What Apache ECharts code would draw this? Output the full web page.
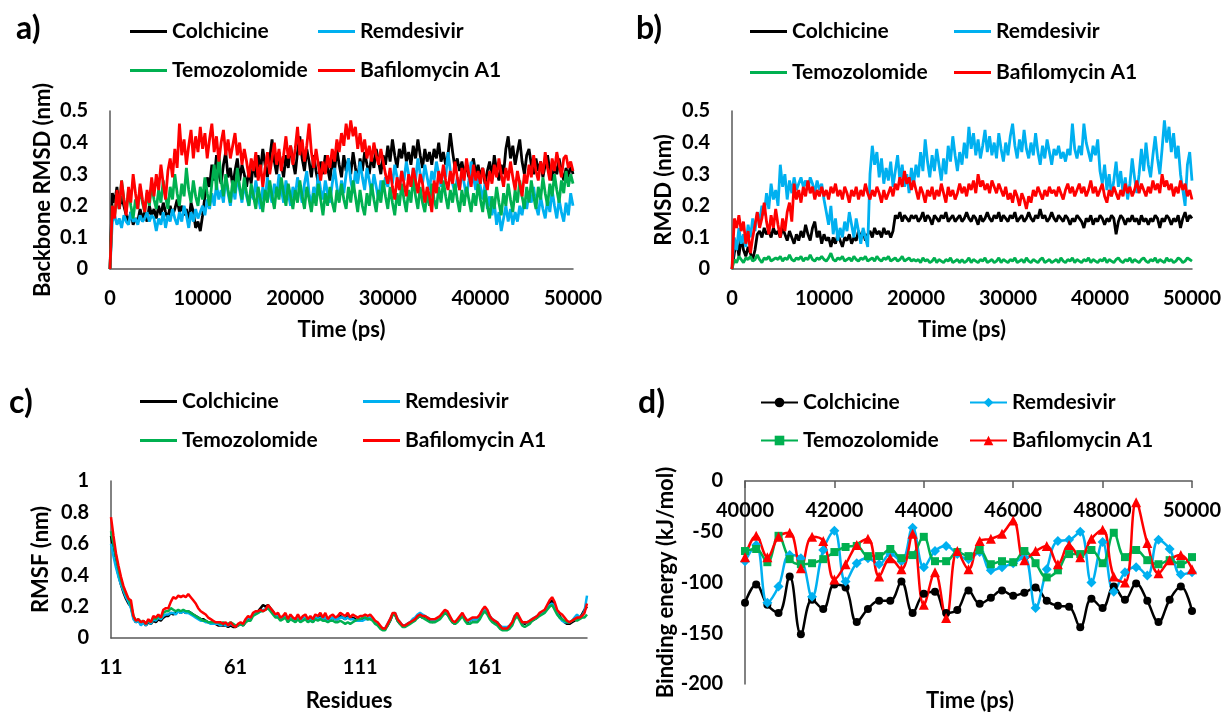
<!DOCTYPE html>
<html><head><meta charset="utf-8">
<script src="https://cdn.jsdelivr.net/npm/echarts@6/dist/echarts.min.js"></script>
<style>html,body{margin:0;padding:0;background:#fff}#c{width:1224px;height:713px}</style>
</head><body><div id="c"></div><script>
const seriesNames = ['Colchicine','Remdesivir','Temozolomide','Bafilomycin A1'];
const seriesColors = ['#000000','#00B0F0','#00B050','#FF0000'];
const dSymbols = ['circle','diamond','rect','triangle'];
const dSymbolSizes = [8,10,8,10];

// time axis for panels a and b (ps), sampled every 250 ps
const timeStepPs = 250;
const timePs = [];
for (let t = 0; t <= 50000; t += timeStepPs) timePs.push(t);

// a) Backbone RMSD (nm)
const rmsdA_colchicine = [
0,0.24,0.21,0.26,0.19,0.23,0.2,0.17,0.15,0.18,0.14,0.16,0.15,0.19,0.16,0.18,0.15,0.2,0.17,0.19,
0.16,0.2,0.17,0.21,0.18,0.16,0.2,0.17,0.19,0.22,0.18,0.2,0.17,0.19,0.15,0.21,0.18,0.13,0.15,0.12,
0.17,0.23,0.29,0.26,0.33,0.28,0.36,0.3,0.27,0.33,0.37,0.29,0.32,0.26,0.31,0.35,0.28,0.33,0.3,0.26,
0.31,0.27,0.34,0.29,0.36,0.31,0.38,0.33,0.29,0.35,0.41,0.34,0.3,0.37,0.33,0.29,0.36,0.32,0.39,0.34,
0.3,0.37,0.42,0.35,0.31,0.38,0.34,0.29,0.36,0.31,0.27,0.34,0.3,0.36,0.32,0.28,0.35,0.31,0.38,0.33,
0.29,0.36,0.31,0.35,0.3,0.37,0.32,0.28,0.35,0.31,0.37,0.33,0.3,0.36,0.32,0.38,0.34,0.3,0.36,0.33,
0.39,0.34,0.41,0.36,0.32,0.38,0.35,0.4,0.34,0.37,0.33,0.39,0.35,0.41,0.36,0.32,0.38,0.34,0.37,0.33,
0.38,0.35,0.4,0.34,0.37,0.33,0.36,0.43,0.37,0.32,0.35,0.31,0.34,0.3,0.33,0.29,0.32,0.35,0.3,0.33,
0.29,0.32,0.27,0.31,0.34,0.29,0.36,0.31,0.28,0.33,0.3,0.38,0.42,0.35,0.39,0.33,0.37,0.41,0.34,0.3,
0.36,0.38,0.33,0.3,0.35,0.31,0.34,0.29,0.33,0.36,0.31,0.28,0.33,0.3,0.35,0.31,0.28,0.32,0.29,0.33,
0.3];
const rmsdA_remdesivir = [
0,0.15,0.17,0.14,0.16,0.13,0.17,0.15,0.14,0.18,0.15,0.16,0.14,0.17,0.15,0.16,0.18,0.15,0.17,0.16,
0.12,0.16,0.14,0.18,0.13,0.17,0.15,0.19,0.16,0.14,0.18,0.15,0.2,0.17,0.13,0.18,0.15,0.19,0.16,0.18,
0.2,0.17,0.22,0.19,0.24,0.2,0.27,0.22,0.25,0.21,0.29,0.24,0.2,0.26,0.22,0.3,0.25,0.21,0.27,0.23,
0.2,0.25,0.22,0.28,0.23,0.19,0.26,0.22,0.29,0.24,0.21,0.27,0.23,0.3,0.25,0.21,0.28,0.24,0.2,0.26,
0.23,0.29,0.25,0.21,0.27,0.31,0.24,0.2,0.26,0.23,0.3,0.25,0.22,0.28,0.24,0.21,0.27,0.32,0.26,0.22,
0.28,0.24,0.3,0.35,0.28,0.24,0.31,0.27,0.34,0.29,0.25,0.32,0.28,0.24,0.3,0.26,0.22,0.28,0.25,0.29,
0.26,0.31,0.27,0.33,0.29,0.25,0.31,0.28,0.34,0.3,0.26,0.32,0.28,0.35,0.3,0.27,0.33,0.29,0.25,0.31,
0.28,0.34,0.3,0.26,0.32,0.29,0.37,0.31,0.27,0.24,0.29,0.25,0.31,0.27,0.23,0.28,0.34,0.29,0.25,0.3,
0.26,0.22,0.27,0.19,0.23,0.17,0.21,0.14,0.18,0.12,0.16,0.2,0.15,0.19,0.14,0.18,0.15,0.2,0.17,0.22,
0.19,0.24,0.21,0.26,0.2,0.17,0.23,0.19,0.16,0.22,0.18,0.25,0.2,0.16,0.22,0.18,0.15,0.21,0.17,0.24,
0.2];
const rmsdA_temozolomide = [
0,0.2,0.17,0.24,0.19,0.28,0.22,0.18,0.25,0.2,0.16,0.22,0.19,0.26,0.21,0.18,0.24,0.2,0.27,0.22,
0.19,0.25,0.21,0.28,0.23,0.19,0.26,0.22,0.3,0.24,0.2,0.27,0.23,0.32,0.25,0.21,0.28,0.23,0.2,0.26,
0.22,0.29,0.24,0.2,0.27,0.33,0.25,0.37,0.28,0.23,0.3,0.25,0.21,0.28,0.24,0.32,0.26,0.22,0.29,0.24,
0.2,0.27,0.23,0.19,0.26,0.22,0.18,0.25,0.21,0.28,0.23,0.19,0.26,0.22,0.29,0.24,0.2,0.27,0.23,0.19,
0.25,0.21,0.28,0.23,0.19,0.26,0.22,0.18,0.24,0.2,0.27,0.22,0.17,0.24,0.2,0.26,0.21,0.18,0.25,0.21,
0.27,0.22,0.19,0.26,0.21,0.28,0.23,0.18,0.25,0.2,0.17,0.24,0.2,0.27,0.22,0.18,0.25,0.21,0.28,0.23,
0.19,0.26,0.21,0.17,0.24,0.2,0.27,0.22,0.18,0.25,0.21,0.29,0.23,0.19,0.26,0.21,0.18,0.24,0.2,0.27,
0.22,0.19,0.26,0.21,0.28,0.23,0.19,0.25,0.21,0.27,0.22,0.18,0.25,0.2,0.26,0.22,0.18,0.24,0.2,0.27,
0.22,0.18,0.25,0.2,0.16,0.23,0.19,0.26,0.21,0.17,0.24,0.2,0.27,0.22,0.18,0.25,0.21,0.28,0.23,0.19,
0.26,0.21,0.28,0.23,0.19,0.26,0.22,0.29,0.24,0.2,0.27,0.23,0.3,0.25,0.21,0.28,0.24,0.31,0.26,0.3,
0.27];
const rmsdA_bafilomycin = [
0,0.2,0.16,0.25,0.19,0.28,0.22,0.17,0.26,0.21,0.3,0.24,0.19,0.27,0.22,0.18,0.25,0.21,0.29,0.23,
0.3,0.25,0.33,0.27,0.22,0.31,0.35,0.29,0.38,0.32,0.46,0.36,0.41,0.33,0.39,0.44,0.35,0.42,0.37,0.45,
0.38,0.43,0.35,0.41,0.46,0.37,0.42,0.34,0.4,0.44,0.36,0.41,0.35,0.39,0.43,0.36,0.4,0.33,0.38,0.34,
0.29,0.35,0.31,0.37,0.28,0.33,0.26,0.32,0.37,0.3,0.35,0.4,0.33,0.38,0.31,0.36,0.42,0.35,0.39,0.33,
0.38,0.45,0.36,0.41,0.34,0.39,0.46,0.37,0.32,0.38,0.33,0.28,0.34,0.3,0.36,0.32,0.38,0.34,0.41,0.37,
0.43,0.39,0.46,0.41,0.47,0.42,0.45,0.38,0.43,0.37,0.41,0.35,0.39,0.34,0.4,0.36,0.33,0.38,0.34,0.3,
0.27,0.32,0.26,0.22,0.29,0.25,0.31,0.27,0.23,0.3,0.26,0.32,0.28,0.24,0.3,0.27,0.21,0.26,0.23,0.18,
0.28,0.24,0.31,0.27,0.33,0.28,0.25,0.31,0.27,0.34,0.29,0.25,0.32,0.28,0.35,0.3,0.26,0.33,0.28,0.31,
0.27,0.32,0.28,0.25,0.31,0.27,0.33,0.29,0.35,0.3,0.26,0.32,0.28,0.34,0.29,0.25,0.31,0.27,0.23,0.3,
0.27,0.33,0.29,0.36,0.31,0.28,0.34,0.3,0.37,0.32,0.28,0.35,0.31,0.37,0.33,0.29,0.35,0.36,0.32,0.34,
0.31];

// b) RMSD (nm)
const rmsdB_colchicine = [
0,0.05,0.09,0.04,0.1,0.06,0.04,0.07,0.05,0.03,0.06,0.11,0.12,0.1,0.13,0.11,0.12,0.1,0.13,0.11,
0.12,0.1,0.13,0.11,0.09,0.12,0.1,0.08,0.11,0.09,0.12,0.1,0.14,0.11,0.09,0.13,0.15,0.1,0.12,0.08,
0.11,0.09,0.1,0.07,0.1,0.08,0.11,0.09,0.07,0.1,0.09,0.11,0.08,0.1,0.09,0.12,0.1,0.12,0.09,0.11,
0.12,0.1,0.13,0.11,0.12,0.1,0.13,0.11,0.12,0.1,0.12,0.17,0.16,0.18,0.15,0.17,0.16,0.15,0.17,0.16,
0.17,0.15,0.16,0.18,0.15,0.17,0.16,0.14,0.17,0.16,0.15,0.17,0.16,0.18,0.15,0.16,0.17,0.15,0.16,0.17,
0.15,0.16,0.18,0.16,0.15,0.17,0.16,0.14,0.17,0.15,0.16,0.18,0.16,0.15,0.17,0.16,0.18,0.15,0.17,0.16,
0.15,0.17,0.16,0.18,0.15,0.16,0.17,0.15,0.16,0.18,0.16,0.15,0.17,0.16,0.19,0.16,0.17,0.15,0.16,0.18,
0.16,0.15,0.17,0.16,0.15,0.17,0.16,0.14,0.16,0.15,0.17,0.16,0.15,0.13,0.16,0.15,0.17,0.14,0.16,0.15,
0.17,0.16,0.14,0.16,0.15,0.17,0.16,0.11,0.15,0.17,0.16,0.14,0.16,0.15,0.17,0.15,0.16,0.14,0.17,0.15,
0.16,0.14,0.16,0.15,0.17,0.16,0.13,0.16,0.15,0.17,0.16,0.14,0.16,0.15,0.17,0.13,0.16,0.18,0.15,0.17,
0.16];
const rmsdB_remdesivir = [
0,0.1,0.06,0.13,0.08,0.11,0.07,0.14,0.1,0.16,0.12,0.18,0.15,0.2,0.17,0.24,0.19,0.27,0.22,0.25,
0.2,0.33,0.26,0.3,0.22,0.28,0.24,0.29,0.25,0.27,0.29,0.26,0.28,0.25,0.29,0.27,0.24,0.28,0.25,0.27,
0.22,0.18,0.14,0.2,0.11,0.16,0.09,0.13,0.1,0.15,0.12,0.18,0.14,0.1,0.16,0.12,0.08,0.13,0.1,0.07,
0.3,0.39,0.33,0.37,0.29,0.35,0.27,0.32,0.28,0.34,0.26,0.31,0.36,0.28,0.33,0.26,0.3,0.24,0.32,0.27,
0.33,0.29,0.37,0.31,0.41,0.34,0.29,0.36,0.31,0.38,0.33,0.28,0.35,0.3,0.39,0.34,0.42,0.36,0.31,0.37,
0.33,0.4,0.35,0.45,0.38,0.43,0.36,0.41,0.35,0.39,0.44,0.37,0.42,0.36,0.4,0.35,0.43,0.38,0.34,0.4,
0.36,0.42,0.46,0.39,0.35,0.41,0.37,0.44,0.38,0.35,0.4,0.36,0.43,0.37,0.33,0.39,0.35,0.41,0.37,0.33,
0.38,0.36,0.39,0.35,0.37,0.34,0.38,0.36,0.46,0.38,0.35,0.39,0.36,0.46,0.4,0.37,0.34,0.39,0.36,0.41,
0.31,0.27,0.33,0.25,0.3,0.23,0.28,0.34,0.26,0.31,0.24,0.29,0.22,0.27,0.35,0.29,0.24,0.3,0.38,0.31,
0.4,0.33,0.29,0.36,0.42,0.35,0.3,0.38,0.47,0.4,0.45,0.37,0.43,0.35,0.39,0.3,0.25,0.2,0.33,0.37,
0.28];
const rmsdB_temozolomide = [
0,0.03,0.02,0.04,0.03,0.02,0.035,0.03,0.04,0.025,0.03,0.045,0.03,0.02,0.035,0.03,0.04,0.025,0.03,0.035,
0.03,0.04,0.025,0.035,0.03,0.045,0.03,0.025,0.035,0.03,0.04,0.025,0.035,0.03,0.045,0.03,0.025,0.035,0.03,0.04,
0.03,0.025,0.035,0.05,0.03,0.025,0.035,0.03,0.04,0.025,0.03,0.035,0.025,0.04,0.03,0.025,0.035,0.03,0.04,0.025,
0.03,0.035,0.025,0.04,0.03,0.025,0.035,0.03,0.04,0.025,0.03,0.035,0.025,0.03,0.04,0.025,0.03,0.035,0.025,0.03,
0.025,0.03,0.02,0.035,0.025,0.03,0.02,0.025,0.035,0.02,0.03,0.025,0.02,0.03,0.025,0.035,0.02,0.025,0.03,0.02,
0.03,0.02,0.025,0.035,0.02,0.03,0.025,0.02,0.03,0.025,0.035,0.02,0.025,0.03,0.02,0.025,0.035,0.02,0.03,0.025,
0.02,0.03,0.025,0.035,0.02,0.025,0.03,0.02,0.035,0.025,0.02,0.03,0.025,0.02,0.03,0.035,0.02,0.025,0.03,0.02,
0.025,0.03,0.02,0.035,0.025,0.02,0.03,0.025,0.035,0.02,0.03,0.025,0.02,0.03,0.025,0.035,0.02,0.03,0.025,0.02,
0.03,0.025,0.035,0.02,0.03,0.025,0.02,0.03,0.035,0.025,0.02,0.03,0.025,0.035,0.02,0.03,0.025,0.02,0.03,0.035,
0.025,0.02,0.03,0.025,0.035,0.02,0.03,0.025,0.02,0.035,0.025,0.03,0.02,0.025,0.035,0.03,0.02,0.025,0.035,0.03,
0.025];
const rmsdB_bafilomycin = [
0,0.16,0.13,0.17,0.12,0.15,0.08,0.12,0.05,0.1,0.14,0.18,0.13,0.16,0.21,0.15,0.11,0.17,0.13,0.19,
0.14,0.1,0.16,0.12,0.18,0.21,0.15,0.27,0.22,0.25,0.21,0.26,0.23,0.28,0.24,0.26,0.22,0.25,0.23,0.26,
0.23,0.25,0.22,0.26,0.24,0.27,0.23,0.25,0.22,0.26,0.24,0.21,0.25,0.23,0.26,0.22,0.25,0.23,0.27,0.24,
0.22,0.25,0.23,0.26,0.24,0.21,0.25,0.22,0.24,0.26,0.23,0.27,0.25,0.29,0.26,0.31,0.27,0.29,0.25,0.28,
0.25,0.22,0.26,0.24,0.21,0.25,0.23,0.26,0.22,0.25,0.23,0.27,0.24,0.21,0.26,0.23,0.25,0.22,0.24,0.27,
0.24,0.26,0.23,0.27,0.25,0.28,0.24,0.3,0.26,0.28,0.25,0.27,0.24,0.28,0.26,0.24,0.27,0.25,0.23,0.26,
0.22,0.24,0.21,0.25,0.23,0.2,0.24,0.22,0.19,0.23,0.21,0.25,0.23,0.26,0.24,0.22,0.25,0.23,0.26,0.24,
0.25,0.23,0.26,0.24,0.22,0.25,0.27,0.24,0.26,0.23,0.25,0.27,0.24,0.26,0.23,0.25,0.28,0.24,0.26,0.23,
0.25,0.27,0.23,0.21,0.25,0.23,0.26,0.24,0.22,0.25,0.23,0.27,0.24,0.26,0.23,0.25,0.28,0.24,0.27,0.25,
0.23,0.26,0.24,0.28,0.25,0.27,0.24,0.3,0.26,0.28,0.25,0.27,0.23,0.26,0.24,0.28,0.25,0.27,0.23,0.25,
0.22];

// c) RMSF (nm) per residue 11..202
const firstResidue = 11, lastResidue = 202;
const residues = [];
for (let r = firstResidue; r <= lastResidue; r++) residues.push(String(r));
const rmsf_colchicine = [
0.65,0.56,0.47,0.4,0.34,0.29,0.25,0.22,0.2,0.13,
0.1,0.11,0.09,0.1,0.08,0.1,0.09,0.11,0.1,0.12,
0.11,0.13,0.14,0.14,0.16,0.15,0.16,0.17,0.16,0.17,
0.16,0.17,0.16,0.15,0.14,0.13,0.12,0.12,0.11,0.1,
0.1,0.09,0.09,0.08,0.08,0.08,0.08,0.07,0.08,0.07,
0.07,0.08,0.09,0.08,0.1,0.12,0.12,0.15,0.16,0.17,
0.19,0.21,0.2,0.21,0.19,0.17,0.14,0.15,0.12,0.13,
0.14,0.11,0.13,0.12,0.11,0.13,0.11,0.12,0.13,0.11,
0.12,0.11,0.13,0.12,0.14,0.12,0.13,0.11,0.12,0.13,
0.12,0.12,0.14,0.13,0.12,0.14,0.12,0.13,0.12,0.11,
0.12,0.12,0.13,0.12,0.13,0.12,0.1,0.09,0.07,0.06,
0.06,0.08,0.11,0.15,0.15,0.11,0.09,0.08,0.08,0.09,
0.1,0.11,0.12,0.13,0.14,0.13,0.13,0.12,0.11,0.1,
0.11,0.12,0.13,0.15,0.16,0.15,0.13,0.1,0.09,0.11,
0.13,0.15,0.12,0.1,0.11,0.12,0.12,0.12,0.14,0.17,
0.19,0.17,0.13,0.11,0.1,0.09,0.08,0.06,0.06,0.06,
0.07,0.09,0.13,0.15,0.12,0.1,0.09,0.1,0.1,0.11,
0.12,0.13,0.15,0.16,0.17,0.19,0.22,0.24,0.21,0.17,
0.14,0.12,0.1,0.09,0.09,0.1,0.11,0.12,0.13,0.15,
0.18,0.2];
const rmsf_remdesivir = [
0.6,0.52,0.45,0.39,0.34,0.3,0.26,0.23,0.19,0.12,
0.1,0.11,0.08,0.1,0.08,0.11,0.09,0.12,0.11,0.13,
0.12,0.14,0.15,0.15,0.16,0.16,0.15,0.17,0.16,0.17,
0.16,0.16,0.15,0.14,0.13,0.12,0.11,0.11,0.1,0.1,
0.09,0.09,0.09,0.09,0.08,0.09,0.08,0.08,0.09,0.08,
0.08,0.08,0.09,0.09,0.11,0.13,0.12,0.15,0.16,0.16,
0.17,0.18,0.18,0.19,0.18,0.16,0.14,0.14,0.12,0.13,
0.14,0.11,0.13,0.12,0.11,0.13,0.11,0.12,0.13,0.11,
0.12,0.1,0.13,0.12,0.13,0.12,0.13,0.11,0.12,0.13,
0.12,0.12,0.13,0.13,0.12,0.13,0.12,0.12,0.11,0.11,
0.11,0.11,0.12,0.12,0.13,0.12,0.1,0.09,0.07,0.06,
0.06,0.09,0.12,0.15,0.16,0.12,0.1,0.08,0.08,0.09,
0.1,0.12,0.13,0.15,0.16,0.15,0.14,0.13,0.12,0.11,
0.11,0.12,0.13,0.15,0.17,0.16,0.13,0.11,0.1,0.11,
0.13,0.15,0.13,0.11,0.11,0.12,0.12,0.12,0.14,0.17,
0.19,0.17,0.14,0.12,0.11,0.1,0.08,0.07,0.07,0.07,
0.08,0.1,0.14,0.15,0.12,0.1,0.1,0.1,0.11,0.12,
0.13,0.14,0.15,0.16,0.17,0.19,0.21,0.22,0.2,0.16,
0.13,0.11,0.1,0.1,0.1,0.11,0.13,0.15,0.13,0.14,
0.17,0.27];
const rmsf_temozolomide = [
0.68,0.6,0.52,0.44,0.37,0.32,0.28,0.25,0.21,0.14,
0.11,0.12,0.1,0.11,0.09,0.11,0.1,0.13,0.12,0.14,
0.13,0.16,0.17,0.17,0.19,0.18,0.17,0.18,0.17,0.18,
0.17,0.17,0.16,0.15,0.14,0.13,0.12,0.11,0.11,0.1,
0.1,0.1,0.1,0.1,0.09,0.1,0.09,0.09,0.1,0.09,
0.08,0.08,0.09,0.08,0.1,0.11,0.11,0.14,0.15,0.16,
0.17,0.17,0.18,0.19,0.17,0.15,0.13,0.13,0.11,0.12,
0.13,0.1,0.12,0.11,0.1,0.12,0.1,0.11,0.12,0.1,
0.11,0.1,0.12,0.11,0.12,0.11,0.11,0.1,0.11,0.11,
0.1,0.1,0.11,0.1,0.09,0.1,0.09,0.1,0.11,0.12,
0.12,0.13,0.13,0.12,0.12,0.11,0.09,0.08,0.06,0.05,
0.05,0.08,0.11,0.15,0.15,0.11,0.09,0.07,0.07,0.08,
0.09,0.1,0.11,0.13,0.14,0.13,0.12,0.11,0.1,0.1,
0.1,0.11,0.12,0.14,0.16,0.15,0.12,0.1,0.09,0.1,
0.12,0.14,0.11,0.09,0.09,0.1,0.1,0.1,0.12,0.15,
0.17,0.15,0.12,0.1,0.09,0.08,0.06,0.05,0.05,0.05,
0.06,0.08,0.12,0.14,0.11,0.08,0.07,0.08,0.09,0.11,
0.12,0.13,0.14,0.15,0.16,0.18,0.2,0.21,0.18,0.15,
0.13,0.12,0.11,0.1,0.1,0.11,0.12,0.11,0.12,0.13,
0.13,0.15];
const rmsf_bafilomycin = [
0.77,0.65,0.54,0.46,0.39,0.33,0.29,0.25,0.24,0.14,
0.11,0.12,0.1,0.11,0.09,0.12,0.1,0.14,0.13,0.15,
0.13,0.18,0.19,0.19,0.23,0.26,0.25,0.27,0.26,0.27,
0.26,0.28,0.26,0.24,0.22,0.19,0.17,0.16,0.15,0.13,
0.12,0.11,0.1,0.1,0.1,0.09,0.1,0.08,0.1,0.08,
0.07,0.09,0.1,0.09,0.12,0.14,0.13,0.16,0.17,0.17,
0.18,0.17,0.18,0.21,0.19,0.17,0.15,0.16,0.13,0.14,
0.16,0.12,0.15,0.13,0.12,0.15,0.12,0.14,0.15,0.12,
0.14,0.12,0.15,0.14,0.16,0.13,0.16,0.12,0.14,0.15,
0.13,0.14,0.16,0.15,0.14,0.16,0.13,0.15,0.14,0.13,
0.14,0.14,0.15,0.14,0.15,0.13,0.11,0.1,0.08,0.06,
0.06,0.09,0.12,0.16,0.16,0.12,0.1,0.08,0.08,0.09,
0.1,0.11,0.12,0.14,0.15,0.14,0.14,0.13,0.12,0.12,
0.12,0.13,0.14,0.16,0.18,0.17,0.14,0.11,0.1,0.12,
0.14,0.16,0.13,0.11,0.12,0.13,0.13,0.13,0.15,0.18,
0.2,0.18,0.14,0.12,0.11,0.1,0.08,0.06,0.06,0.06,
0.08,0.1,0.14,0.16,0.13,0.1,0.1,0.1,0.11,0.12,
0.13,0.14,0.16,0.17,0.18,0.21,0.24,0.26,0.23,0.18,
0.16,0.15,0.13,0.11,0.1,0.11,0.12,0.13,0.13,0.14,
0.16,0.22];

// d) Binding energy (kJ/mol), 40000..50000 ps every 250 ps
const energyTimePs = [40000,40250,40500,40750,41000,41250,41500,41750,42000,42250,42500,42750,43000,43250,43500,43750,44000,44250,44500,44750,45000,45250,45500,45750,46000,46250,46500,46750,47000,47250,47500,47750,48000,48250,48500,48750,49000,49250,49500,49750,50000];
const energy_colchicine = [-120,-102,-122,-130,-94,-151,-117,-126,-102,-105,-139,-126,-118,-118,-99,-130,-111,-109,-130,-127,-108,-121,-115,-108,-113,-110,-105,-118,-123,-124,-144,-116,-125,-104,-117,-101,-118,-139,-117,-104,-128];
const energy_remdesivir = [-79,-63,-120,-104,-73,-76,-114,-68,-49,-99,-81,-76,-82,-72,-79,-46,-85,-69,-64,-72,-77,-70,-88,-85,-81,-75,-125,-87,-59,-58,-50,-100,-60,-109,-90,-85,-93,-58,-67,-92,-90];
const energy_temozolomide = [-69,-67,-80,-54,-77,-82,-81,-77,-70,-65,-64,-74,-74,-67,-76,-73,-55,-79,-79,-70,-74,-68,-82,-79,-80,-69,-81,-95,-88,-72,-72,-68,-81,-51,-75,-68,-78,-82,-78,-82,-75];
const energy_bafilomycin = [-75,-54,-75,-55,-51,-86,-55,-59,-97,-82,-63,-57,-94,-76,-87,-52,-122,-90,-135,-69,-87,-59,-57,-52,-39,-78,-69,-64,-82,-63,-75,-57,-48,-94,-100,-21,-61,-91,-78,-73,-87];

const FONT = 'Lato';
const tickTxt = {fontFamily: FONT, fontWeight: 'bold', color: '#000', fontSize: 20, lineHeight: 20};
const nameTxt = {fontFamily: FONT, fontWeight: 'bold', color: '#000', fontSize: 22, lineHeight: 22};
const legendTxt = {fontFamily: FONT, fontWeight: 'bold', color: '#000', fontSize: 21, lineHeight: 21};
const axisLineStyle = {color: '#595959', width: 1.5};
const plainNumber = v => String(v);

function pairs(xs, ys) { return ys.map((v, i) => [xs[i], v]); }

function xValueAxis(grid, min, max, interval, name) {
  return {type: 'value', gridIndex: grid, min, max, interval,
    axisLine: {show: true, lineStyle: axisLineStyle}, axisTick: {show: false}, splitLine: {show: false},
    axisLabel: Object.assign({margin: 20, formatter: plainNumber}, tickTxt),
    name, nameLocation: 'middle', nameGap: 50, nameTextStyle: Object.assign({}, nameTxt)};
}
function yValueAxis(grid, min, max, interval, name, gap) {
  return {type: 'value', gridIndex: grid, min, max, interval,
    axisLine: {show: true, lineStyle: axisLineStyle}, axisTick: {show: false}, splitLine: {show: false},
    axisLabel: Object.assign({margin: 22}, tickTxt),
    name, nameLocation: 'middle', nameGap: gap, nameRotate: 90, nameTextStyle: Object.assign({}, nameTxt)};
}

function legendCol(panel, left, top, gap, names, markers) {
  const cfg = {orient: 'vertical', left, top, padding: 0, itemGap: gap, itemWidth: 37,
    selectedMode: false, data: names.map(n => n + '#' + panel),
    formatter: n => n.split('#')[0], textStyle: Object.assign({}, legendTxt)};
  if (markers) { cfg.itemHeight = 12; } else { cfg.icon = 'rect'; cfg.itemHeight = 3; }
  return cfg;
}

const series = [];
const aVals = [rmsdA_colchicine, rmsdA_remdesivir, rmsdA_temozolomide, rmsdA_bafilomycin];
const bVals = [rmsdB_colchicine, rmsdB_remdesivir, rmsdB_temozolomide, rmsdB_bafilomycin];
const cVals = [rmsf_colchicine, rmsf_remdesivir, rmsf_temozolomide, rmsf_bafilomycin];
const dVals = [energy_colchicine, energy_remdesivir, energy_temozolomide, energy_bafilomycin];
seriesNames.forEach((n, i) => {
  const col = seriesColors[i];
  series.push({name: n + '#a', type: 'line', xAxisIndex: 0, yAxisIndex: 0, data: pairs(timePs, aVals[i]),
    symbol: 'none', lineStyle: {width: 2.8, color: col}, itemStyle: {color: col}});
});
seriesNames.forEach((n, i) => {
  const col = seriesColors[i];
  series.push({name: n + '#b', type: 'line', xAxisIndex: 1, yAxisIndex: 1, data: pairs(timePs, bVals[i]),
    symbol: 'none', lineStyle: {width: 2.8, color: col}, itemStyle: {color: col}});
});
seriesNames.forEach((n, i) => {
  const col = seriesColors[i];
  series.push({name: n + '#c', type: 'line', xAxisIndex: 2, yAxisIndex: 2, data: cVals[i],
    symbol: 'none', lineStyle: {width: 2.5, color: col}, itemStyle: {color: col}});
});
seriesNames.forEach((n, i) => {
  const col = seriesColors[i];
  series.push({name: n + '#d', type: 'line', xAxisIndex: 3, yAxisIndex: 3, data: pairs(energyTimePs, dVals[i]),
    symbol: dSymbols[i], symbolSize: dSymbolSizes[i], showSymbol: true, smooth: 0.4,
    lineStyle: {width: 2.5, color: col}, itemStyle: {color: col}});
});

const option = {
  animation: false,
  backgroundColor: '#ffffff',
  grid: [
    {left: 110, top: 111, width: 463, height: 158},
    {left: 732, top: 111, width: 461, height: 158},
    {left: 111, top: 481, width: 476, height: 158},
    {left: 745, top: 481, width: 447, height: 203}
  ],
  xAxis: [
    xValueAxis(0, 0, 50000, 10000, 'Time (ps)'),
    xValueAxis(1, 0, 50000, 10000, 'Time (ps)'),
    {type: 'category', gridIndex: 2, data: residues, boundaryGap: false,
      axisLine: {show: true, lineStyle: axisLineStyle}, axisTick: {show: false},
      axisLabel: Object.assign({margin: 20, interval: 49}, tickTxt),
      name: 'Residues', nameLocation: 'middle', nameGap: 52, nameTextStyle: Object.assign({}, nameTxt)},
    {type: 'value', gridIndex: 3, min: 40000, max: 50000, interval: 2000, position: 'top',
      axisLine: {show: true, onZero: false, lineStyle: axisLineStyle},
      axisTick: {show: true, inside: true, length: 7, lineStyle: axisLineStyle},
      splitLine: {show: false},
      axisLabel: Object.assign({margin: 20, inside: true, formatter: plainNumber}, tickTxt)}
  ],
  yAxis: [
    yValueAxis(0, 0, 0.5, 0.1, 'Backbone RMSD (nm)', 56),
    yValueAxis(1, 0, 0.5, 0.1, 'RMSD (nm)', 57),
    yValueAxis(2, 0, 1, 0.2, 'RMSF (nm)', 59),
    yValueAxis(3, -200, 0, 50, 'Binding energy (kJ/mol)', 68)
  ],
  legend: [
    legendCol('a', 130, 21, 18, ['Colchicine', 'Temozolomide'], false),
    legendCol('a', 318, 21, 18, ['Remdesivir', 'Bafilomycin A1'], false),
    legendCol('b', 750, 21, 20, ['Colchicine', 'Temozolomide'], false),
    legendCol('b', 954, 21, 20, ['Remdesivir', 'Bafilomycin A1'], false),
    legendCol('c', 140, 391, 18, ['Colchicine', 'Temozolomide'], false),
    legendCol('c', 363, 391, 18, ['Remdesivir', 'Bafilomycin A1'], false),
    legendCol('d', 760, 392, 17, ['Colchicine', 'Temozolomide'], true),
    legendCol('d', 969, 392, 17, ['Remdesivir', 'Bafilomycin A1'], true)
  ],
  graphic: [
    {type: 'text', left: 16, top: 13, style: {text: 'a)', font: 'bold 32px Lato', fill: '#000'}},
    {type: 'text', left: 636, top: 13, style: {text: 'b)', font: 'bold 32px Lato', fill: '#000'}},
    {type: 'text', left: 9, top: 387, style: {text: 'c)', font: 'bold 32px Lato', fill: '#000'}},
    {type: 'text', left: 638, top: 387, style: {text: 'd)', font: 'bold 32px Lato', fill: '#000'}},
    {type: 'text', x: 970, y: 701, style: {text: 'Time (ps)', font: 'bold 22px Lato', fill: '#000', align: 'center', verticalAlign: 'middle'}}
  ],
  series
};
const chart = echarts.init(document.getElementById('c'), null, {renderer: 'canvas'});
chart.setOption(option);
</script></body></html>
